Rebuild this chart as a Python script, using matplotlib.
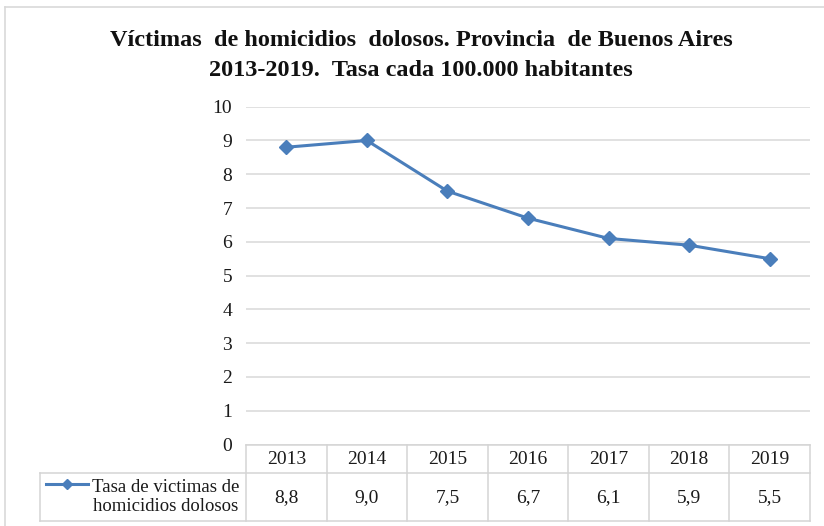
import matplotlib
matplotlib.use("Agg")
import matplotlib.pyplot as plt
from matplotlib.lines import Line2D

years = ["2013", "2014", "2015", "2016", "2017", "2018", "2019"]
values = [8.8, 9.0, 7.5, 6.7, 6.1, 5.9, 5.5]
value_labels = ["8,8", "9,0", "7,5", "6,7", "6,1", "5,9", "5,5"]
series_name = "Tasa de victimas de\nhomicidios dolosos"
title = "Víctimas  de homicidios  dolosos. Provincia  de Buenos Aires\n2013-2019.  Tasa cada 100.000 habitantes"
yticks = list(range(0, 11))

W, H = 824, 526
plt.rcParams['font.family'] = ['Liberation Serif', 'DejaVu Serif']
fig = plt.figure(figsize=(W / 100, H / 100), dpi=100)

def fx(px):
    return px / W

def fy(py):
    return 1 - py / H

left, right, top, bottom = 246, 810, 106.7, 444.5
ax = fig.add_axes([fx(left), fy(bottom), fx(right - left), (bottom - top) / H])

line_color = "#4A7EBB"
grid_color = "#D9D9D9"
x = list(range(len(years)))
ax.plot(x, values, color=line_color, lw=2.2, marker="D", ms=7.5, zorder=3)
ax.set_xlim(-0.5, len(years) - 0.5)
ax.set_ylim(0, 10)
ax.set_yticks(yticks)
ax.set_yticklabels([str(t) for t in yticks], fontsize=14, color="#1a1a1a")
ax.tick_params(axis="y", length=0, pad=10)
ax.set_xticks([])
for s in ax.spines.values():
    s.set_visible(False)
ax.grid(axis="y", color=grid_color, lw=1.1)
ax.set_axisbelow(True)

# Title
t1, t2 = title.split("\n")
fig.text(0.511, fy(40), t1, ha="center", va="center",
         fontsize=17.5, fontweight="bold", color="#111111")
fig.text(0.511, fy(70), t2, ha="center", va="center",
         fontsize=17.5, fontweight="bold", color="#111111")

# Data table
tbl_color = "#D4D4D4"
row0_top, row0_bot, row1_bot = 445, 473, 521
leg_left = 40

def hline(y, x0, x1):
    fig.add_artist(Line2D([fx(x0), fx(x1)], [fy(y), fy(y)], color=tbl_color, lw=1.1))

def vline(xp, y0, y1):
    fig.add_artist(Line2D([fx(xp), fx(xp)], [fy(y0), fy(y1)], color=tbl_color, lw=1.1))

hline(row0_top, left, right)
hline(row0_bot, leg_left, right)
hline(row1_bot, leg_left, right)
vline(leg_left, row0_bot, row1_bot)
ncol = len(years)
colw = (right - left) / ncol
for i in range(ncol + 1):
    vline(left + i * colw, row0_top, row1_bot)
for i in range(ncol):
    cx = left + (i + 0.5) * colw
    fig.text(fx(cx), fy(459), years[i], ha="center", va="center", fontsize=14, color="#1a1a1a")
    fig.text(fx(cx), fy(498), value_labels[i], ha="center", va="center", fontsize=14, color="#1a1a1a")

# Legend key in table
fig.add_artist(Line2D([fx(46), fx(88)], [fy(484), fy(484)], color=line_color, lw=2.2))
fig.add_artist(Line2D([fx(67)], [fy(484)], color=line_color, marker="D", ms=5))
fig.text(fx(166), fy(497), series_name, ha="center", va="center", fontsize=13.5,
         color="#1a1a1a", linespacing=1.1)

# Outer chart border (partially visible)
border = "#D9D9D9"
fig.add_artist(Line2D([fx(5), fx(5)], [fy(7), fy(526)], color=border, lw=1.2))
fig.add_artist(Line2D([fx(5), fx(824)], [fy(7), fy(7)], color=border, lw=1.2))

fig.savefig("out.png", dpi=100, facecolor="white")
